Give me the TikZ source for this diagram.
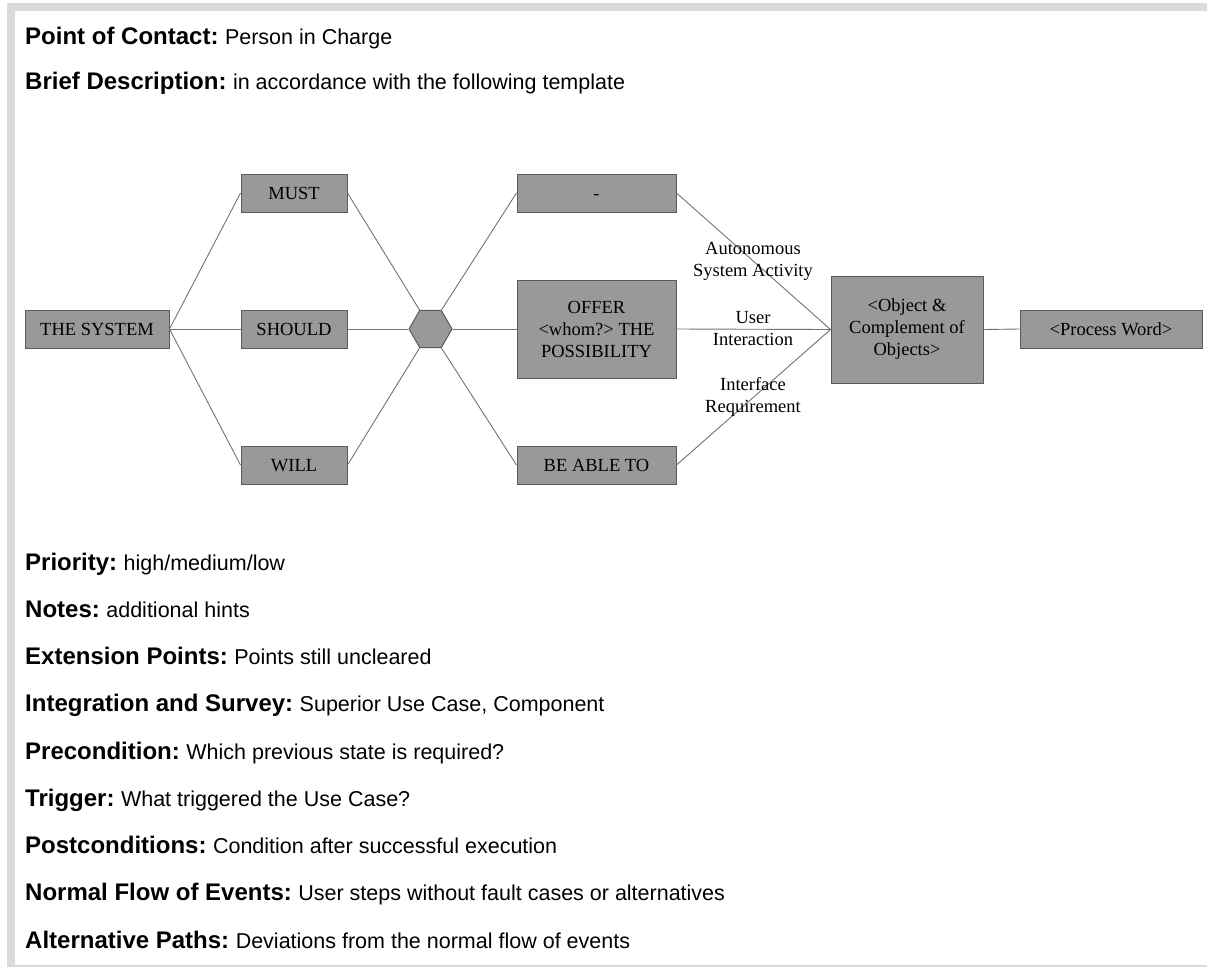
\documentclass[tikz,border=0pt]{standalone}
\usepackage{fontspec}
\setmainfont{Liberation Serif}
\newfontfamily\formfont{Liberation Sans}
\usetikzlibrary{shapes.geometric}

\definecolor{framegray}{HTML}{D9D9D9}
\definecolor{boxfill}{HTML}{999999}
\definecolor{boxline}{HTML}{5A5A5A}
\definecolor{linkcol}{HTML}{737373}

% one line of the use-case form: bold field name, then its value
\newcommand{\formfield}[2]{{\formfont\bfseries\fontsize{24}{26}\selectfont #1}\hspace{6.5pt}{\formfont\fontsize{21.5}{24}\selectfont #2}}

\tikzset{
  diagtext/.style={font=\fontsize{18.5}{22}\selectfont},
  box/.style={draw=boxline, fill=boxfill, line width=1pt, inner sep=0pt,
              align=center, diagtext},
  oneline/.style={box, minimum height=38, text height=13, text depth=0pt},
  link/.style={draw=linkcol, line width=0.9pt},
  edgelabel/.style={align=center, inner sep=0pt, diagtext},
  field/.style={anchor=base west, inner sep=0pt},
}

\begin{document}
\begin{tikzpicture}[x=1pt, y=-1pt]
\useasboundingbox (0,0) rectangle (1207,967);

% page frame
\fill[framegray] (7,3) rectangle (1207,10.5);
\fill[framegray] (7,3) rectangle (14.5,966);
\fill[framegray] (7,964.8) rectangle (1207,966.5);

% header fields
\node[field] (poc)   at (25,44) {\formfield{Point of Contact:}{Person in Charge}};
\node[field] (brief) at (25,89) {\formfield{Brief Description:}{in accordance with the following template}};

% template diagram
\node[oneline, minimum width=144] (sys)    at (97,329)   {THE SYSTEM};
\node[oneline, minimum width=106] (must)   at (294,193)  {MUST};
\node[oneline, minimum width=106] (should) at (294,329)  {SHOULD};
\node[oneline, minimum width=106] (will)   at (294,465)  {WILL};
\node[draw=boxline, fill=boxfill, line width=1pt, regular polygon, regular polygon sides=6,
      minimum size=43, inner sep=0pt] (hub) at (430.5,329) {};
\node[oneline, minimum width=159] (none)   at (596.5,193) {-};
\node[box, minimum width=159, minimum height=98] (offer)  at (596.5,329) {OFFER\\{<}whom?{>} THE\\POSSIBILITY};
\node[oneline, minimum width=159] (able)   at (596.5,465) {BE ABLE TO};
\node[box, minimum width=152, minimum height=107] (object) at (907,329.5) {{<}Object \&\\Complement of\\Objects{>}};
\node[oneline, minimum width=182] (process) at (1111,329) {{<}Process Word{>}};

\draw[link] (sys.east) -- (must.west);
\draw[link] (sys.east) -- (should.west);
\draw[link] (sys.east) -- (will.west);
\draw[link] (must.east) -- (hub.120);
\draw[link] (should.east) -- (hub.180);
\draw[link] (will.east) -- (hub.240);
\draw[link] (hub.60) -- (none.west);
\draw[link] (hub.0) -- (offer.west);
\draw[link] (hub.300) -- (able.west);
\draw[link] (none.east) -- (object.west);
\draw[link] (offer.east) -- (object.west);
\draw[link] (able.east) -- (object.west);
\draw[link] (object.east) -- (process.west);

\node[edgelabel] (lauto)  at (753,261) {Autonomous\\System Activity};
\node[edgelabel] (luser)  at (753,329) {User\\Interaction};
\node[edgelabel] (lintf)  at (753,397) {Interface\\Requirement};

% remaining fields
\node[field] (prio)  at (25,570)    {\formfield{Priority:}{high/medium/low}};
\node[field] (notes) at (25,617.25) {\formfield{Notes:}{additional hints}};
\node[field] (ext)   at (25,664.5)  {\formfield{Extension Points:}{Points still uncleared}};
\node[field] (integ) at (25,711.75) {\formfield{Integration and Survey:}{Superior Use Case, Component}};
\node[field] (pre)   at (25,759)    {\formfield{Precondition:}{Which previous state is required?}};
\node[field] (trig)  at (25,806.25) {\formfield{Trigger:}{What triggered the Use Case?}};
\node[field] (post)  at (25,853.5)  {\formfield{Postconditions:}{Condition after successful execution}};
\node[field] (flow)  at (25,900.75) {\formfield{Normal Flow of Events:}{User steps without fault cases or alternatives}};
\node[field] (alt)   at (25,948)    {\formfield{Alternative Paths:}{Deviations from the normal flow of events}};
\end{tikzpicture}
\end{document}
